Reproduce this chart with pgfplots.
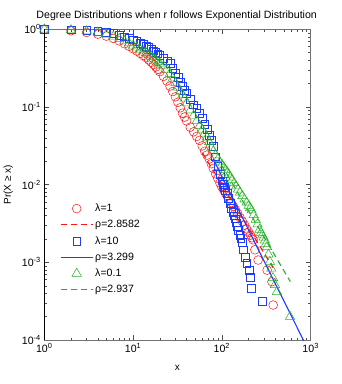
\documentclass[border=0pt]{standalone}
\usepackage{fontspec}
\setmainfont{Liberation Sans}
\usepackage{pgfplots}
\pgfplotsset{compat=1.18}

\definecolor{cred}{RGB}{255,20,20}
\definecolor{cblue}{RGB}{30,60,255}
\definecolor{cgreen}{RGB}{40,175,40}

% CCDF readings, lambda = 1
\pgfplotstableread{
x y
1 1
2 0.959
3 0.912
4 0.867
5 0.817
6 0.762
7 0.708
8 0.653
9 0.605
10 0.562
11 0.525
12 0.490
13 0.459
14 0.432
15 0.403
16 0.376
17 0.351
18 0.327
19 0.305
20 0.285
22 0.248
24 0.216
26 0.186
28 0.158
30 0.135
32 0.115
34 0.0977
36 0.0832
38 0.0741
40 0.0661
44 0.0550
48 0.0479
52 0.0417
56 0.0372
60 0.0316
64 0.0269
68 0.0240
72 0.0214
76 0.0186
80 0.0162
85 0.0138
90 0.0120
95 0.0105
100 0.00933
105 0.0085
110 0.00776
115 0.00711
120 0.00656
127 0.00589
135 0.00525
142 0.00475
150 0.00427
160 0.00377
170 0.00336
180 0.00301
190 0.00269
200 0.00245
210 0.00224
218 0.00207
225 0.00195
235 0.00145
256 0.00107
323 0.000794
366 0.000562
378 0.000282
}\redpts

% lambda = 10
\pgfplotstableread{
x y
1 1
2 0.989
3 0.970
4 0.946
5 0.916
6 0.881
7 0.841
8 0.803
9 0.767
10 0.733
11 0.700
12 0.668
13 0.638
14 0.610
15 0.582
16 0.556
17 0.531
18 0.507
19 0.484
20 0.465
22 0.427
24 0.394
26 0.363
28 0.316
30 0.275
32 0.240
34 0.209
36 0.186
38 0.166
40 0.151
44 0.126
48 0.107
52 0.0955
56 0.0832
60 0.0708
64 0.0603
68 0.0513
72 0.0437
76 0.0372
80 0.0309
85 0.0229
90 0.0174
95 0.0135
100 0.0112
103 0.0102
107 0.00933
110 0.00851
114 0.00776
118 0.00676
123 0.00575
128 0.00501
133 0.00437
136 0.00398
140 0.00363
144 0.00324
148 0.00288
153 0.00257
159 0.00224
163 0.00204
168 0.00182
173 0.00145
182 0.00117
191 0.000977
202 0.000794
208 0.000646
213 0.000468
283 0.000316
}\bluepts

% lambda = 0.1
\pgfplotstableread{
x y
1 1
2 0.977
3 0.944
4 0.908
5 0.861
6 0.809
7 0.755
8 0.705
9 0.661
10 0.621
11 0.585
12 0.552
13 0.522
14 0.495
15 0.468
16 0.445
17 0.422
18 0.400
19 0.382
20 0.365
22 0.335
24 0.305
26 0.269
28 0.234
30 0.204
32 0.178
34 0.158
36 0.145
38 0.129
40 0.112
44 0.0912
48 0.0776
52 0.0661
56 0.0575
60 0.0513
64 0.0457
68 0.0407
72 0.0355
76 0.0302
80 0.0269
85 0.0240
90 0.0214
95 0.0195
100 0.0182
105 0.0168
110 0.0155
115 0.0145
120 0.0135
125 0.0124
130 0.0115
137 0.0105
145 0.00955
152 0.00871
160 0.00794
170 0.00716
180 0.00646
190 0.00589
200 0.00537
208 0.00501
216 0.00468
228 0.00407
240 0.00355
252 0.00309
265 0.00263
275 0.00240
285 0.00224
295 0.00209
305 0.00191
314 0.00174
322 0.00158
335 0.00126
347 0.00102
360 0.000832
376 0.000631
395 0.000513
417 0.000417
585 0.000200
}\greenpts

\begin{document}
\begin{tikzpicture}
\useasboundingbox (-44.3pt,-44pt) rectangle (297.7pt,340pt);
\begin{axis}[
    at={(0,0)}, anchor=south west,
    scale only axis,
    width=266.4pt, height=310.7pt,
    xmode=log, ymode=log,
    xmin=1, xmax=1000, ymin=1e-4, ymax=1,
    xtick={1,10,100,1000},
    xticklabels={10\textsuperscript{0},10\textsuperscript{1},10\textsuperscript{2},10\textsuperscript{3}},
    ytick={1e-4,1e-3,1e-2,1e-1,1},
    yticklabels={10\textsuperscript{-4},10\textsuperscript{-3},10\textsuperscript{-2},10\textsuperscript{-1},10\textsuperscript{0}},
    minor xtick={2,3,4,5,6,7,8,9,20,30,40,50,60,70,80,90,200,300,400,500,600,700,800,900},
    minor ytick={2e-4,3e-4,4e-4,5e-4,6e-4,7e-4,8e-4,9e-4,2e-3,3e-3,4e-3,5e-3,6e-3,7e-3,8e-3,9e-3,
                 2e-2,3e-2,4e-2,5e-2,6e-2,7e-2,8e-2,9e-2,0.2,0.3,0.4,0.5,0.6,0.7,0.8,0.9},
    tick align=inside,
    major tick length=5pt, minor tick length=2.5pt,
    tick style={black!70, line width=0.4pt},
    axis line style={black!55, line width=0.6pt},
    tick label style={font=\fontsize{10.6}{12}\selectfont},
    title={Degree Distributions when r follows Exponential Distribution},
    every axis title/.style={font=\fontsize{10.6}{12}\selectfont, at={(axis description cs:0.497,1.043)}, anchor=center},
    xlabel={x},
    ylabel={Pr(X ≥ x)},
    label style={font=\fontsize{10.6}{12}\selectfont},
    every axis x label/.style={at={(axis description cs:0.5,-0.09)}, anchor=center},
    every axis y label/.style={at={(axis description cs:-0.135,0.5)}, rotate=90, anchor=center},
    clip mode=individual,
    legend cell align=left,
    legend style={at={(axis description cs:0.055,0.448)}, anchor=north west,
        draw=none, fill=none, font=\fontsize{10.6}{12}\selectfont,
        row sep=3.2pt, inner sep=1pt},
    legend image code/.code={\draw[mark repeat=2,mark phase=2,#1] plot coordinates {(0pt,0pt) (16pt,0pt) (32pt,0pt)};},
]
\addplot[only marks, mark=o, mark size=4.4pt, cred, line width=0.5pt] table {\redpts};
\addlegendentry{λ=1}
\addplot[cred, line width=1.1pt, dash pattern=on 6pt off 4pt] coordinates {(60,0.0258) (378,0.00085)};
\addlegendentry{ρ=2.8582}
\addplot[only marks, mark=square, mark size=3.9pt, cblue, line width=0.5pt] table {\bluepts};
\addlegendentry{λ=10}
\addplot[cblue, line width=1.1pt] coordinates {(80,0.0214) (1000,0.0000645)};
\addlegendentry{ρ=3.299}
\addplot[only marks, mark=triangle, mark size=5.4pt, cgreen, line width=0.5pt] table {\greenpts};
\addlegendentry{λ=0.1}
\addplot[cgreen, line width=1.1pt, dash pattern=on 6pt off 4pt] coordinates {(100,0.0175) (590,0.000564)};
\addlegendentry{ρ=2.937}
\end{axis}
\draw[black, line width=0.6pt] (0,0) -- (0,310.7pt);
\end{tikzpicture}
\end{document}
